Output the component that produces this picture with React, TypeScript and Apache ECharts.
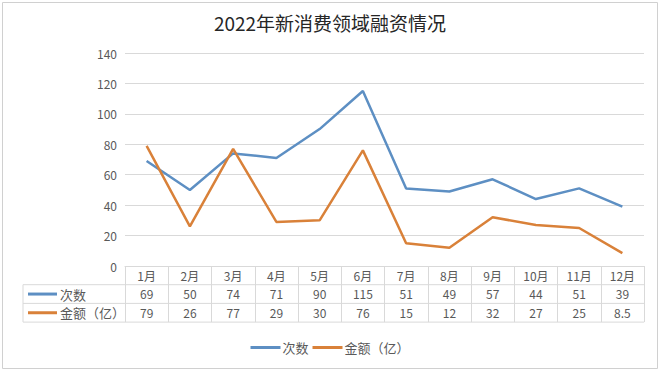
import React, { useEffect, useRef } from "react";
import * as echarts from "echarts";

const title = "2022年新消费领域融资情况";
const months = ["1月", "2月", "3月", "4月", "5月", "6月", "7月", "8月", "9月", "10月", "11月", "12月"];
const countName = "次数";
const amountName = "金额（亿）";
const countValues = [69, 50, 74, 71, 90, 115, 51, 49, 57, 44, 51, 39];
const amountValues = [79, 26, 77, 29, 30, 76, 15, 12, 32, 27, 25, 8.5];
const yTicks = { min: 0, max: 140, interval: 20 };

const BLUE = "#5d8fc3";
const ORANGE = "#d98139";
const GRID = "#d9d9d9";
const TEXT = "#595959";
const FONT = "'Noto Sans CJK SC', 'Noto Sans', sans-serif";

export default function App() {
  const ref = useRef<HTMLDivElement>(null);
  useEffect(() => {
    if (!ref.current) return;
    const chart = echarts.init(ref.current, undefined, { renderer: "svg" });
    const left = 125, right = 644, top = 53, axisY = 266;
    const rowH = 18.7;
    const row1 = axisY + rowH, row2 = axisY + 2 * rowH, row3 = axisY + 3 * rowH;
    const tableLeft = 23;
    const valueAxis = (data: string[], offset: number) => ({
      type: "category",
      data,
      position: "bottom",
      offset,
      gridIndex: 0,
      axisLine: { show: false },
      axisTick: { show: false },
      axisLabel: { color: TEXT, fontSize: 12, fontFamily: FONT, margin: 3, interval: 0 },
    });
    chart.setOption({
      animation: false,
      textStyle: { fontFamily: FONT },
      title: {
        text: title,
        left: "center",
        top: 8,
        textStyle: { fontSize: 19, fontWeight: "normal", color: "#262626", fontFamily: FONT },
      },
      grid: { left, right: 660 - right, top, bottom: 371 - axisY, containLabel: false },
      legend: {
        bottom: 12,
        left: "center",
        icon: "rect",
        itemWidth: 30,
        itemHeight: 3,
        itemGap: 4,
        textStyle: { color: TEXT, fontSize: 13, fontFamily: FONT, padding: [0, 0, 0, -3] },
        data: [countName, amountName],
      },
      xAxis: [
        {
          type: "category",
          data: months,
          position: "bottom",
          boundaryGap: true,
          axisLine: { show: true, lineStyle: { color: GRID, width: 1 } },
          axisTick: { show: true, length: row3 - axisY, lineStyle: { color: GRID } },
          axisLabel: { color: TEXT, fontSize: 12, fontFamily: FONT, margin: 3, interval: 0 },
        },
        valueAxis(countValues.map(String), rowH),
        valueAxis(amountValues.map(String), 2 * rowH),
      ],
      yAxis: {
        type: "value",
        min: yTicks.min,
        max: yTicks.max,
        interval: yTicks.interval,
        axisLine: { show: false },
        axisTick: { show: false },
        splitLine: { lineStyle: { color: GRID, width: 1 } },
        axisLabel: { color: TEXT, fontSize: 12, fontFamily: FONT, margin: 8 },
      },
      series: [
        {
          name: countName,
          type: "line",
          data: countValues,
          symbol: "none",
          lineStyle: { color: BLUE, width: 2.5 },
          itemStyle: { color: BLUE },
        },
        {
          name: amountName,
          type: "line",
          data: amountValues,
          symbol: "none",
          lineStyle: { color: ORANGE, width: 2.5 },
          itemStyle: { color: ORANGE },
        },
      ],
      graphic: [
        { type: "rect", shape: { x: 2.5, y: 2.5, width: 655, height: 366 }, style: { fill: "none", stroke: "#d0d0d0", lineWidth: 1 } },
        { type: "line", shape: { x1: tableLeft, y1: row1, x2: right, y2: row1 }, style: { stroke: GRID, lineWidth: 1 } },
        { type: "line", shape: { x1: tableLeft, y1: row2, x2: right, y2: row2 }, style: { stroke: GRID, lineWidth: 1 } },
        { type: "line", shape: { x1: tableLeft, y1: row3, x2: right, y2: row3 }, style: { stroke: GRID, lineWidth: 1 } },
        { type: "line", shape: { x1: tableLeft, y1: row1, x2: tableLeft, y2: row3 }, style: { stroke: GRID, lineWidth: 1 } },
        { type: "line", shape: { x1: 28, y1: row1 + rowH / 2, x2: 57, y2: row1 + rowH / 2 }, style: { stroke: BLUE, lineWidth: 3 } },
        { type: "line", shape: { x1: 28, y1: row2 + rowH / 2, x2: 57, y2: row2 + rowH / 2 }, style: { stroke: ORANGE, lineWidth: 3 } },
        { type: "text", x: 60, y: row1 + rowH / 2, style: { text: countName, fill: TEXT, fontSize: 13, fontFamily: FONT, verticalAlign: "middle" } },
        { type: "text", x: 60, y: row2 + rowH / 2, style: { text: amountName, fill: TEXT, fontSize: 13, fontFamily: FONT, verticalAlign: "middle" } },
      ],
    });
    return () => chart.dispose();
  }, []);
  return (
    <div
      ref={ref}
      style={{ position: "fixed", left: 0, top: 0, width: 660, height: 371, background: "#fff" }}
    />
  );
}
